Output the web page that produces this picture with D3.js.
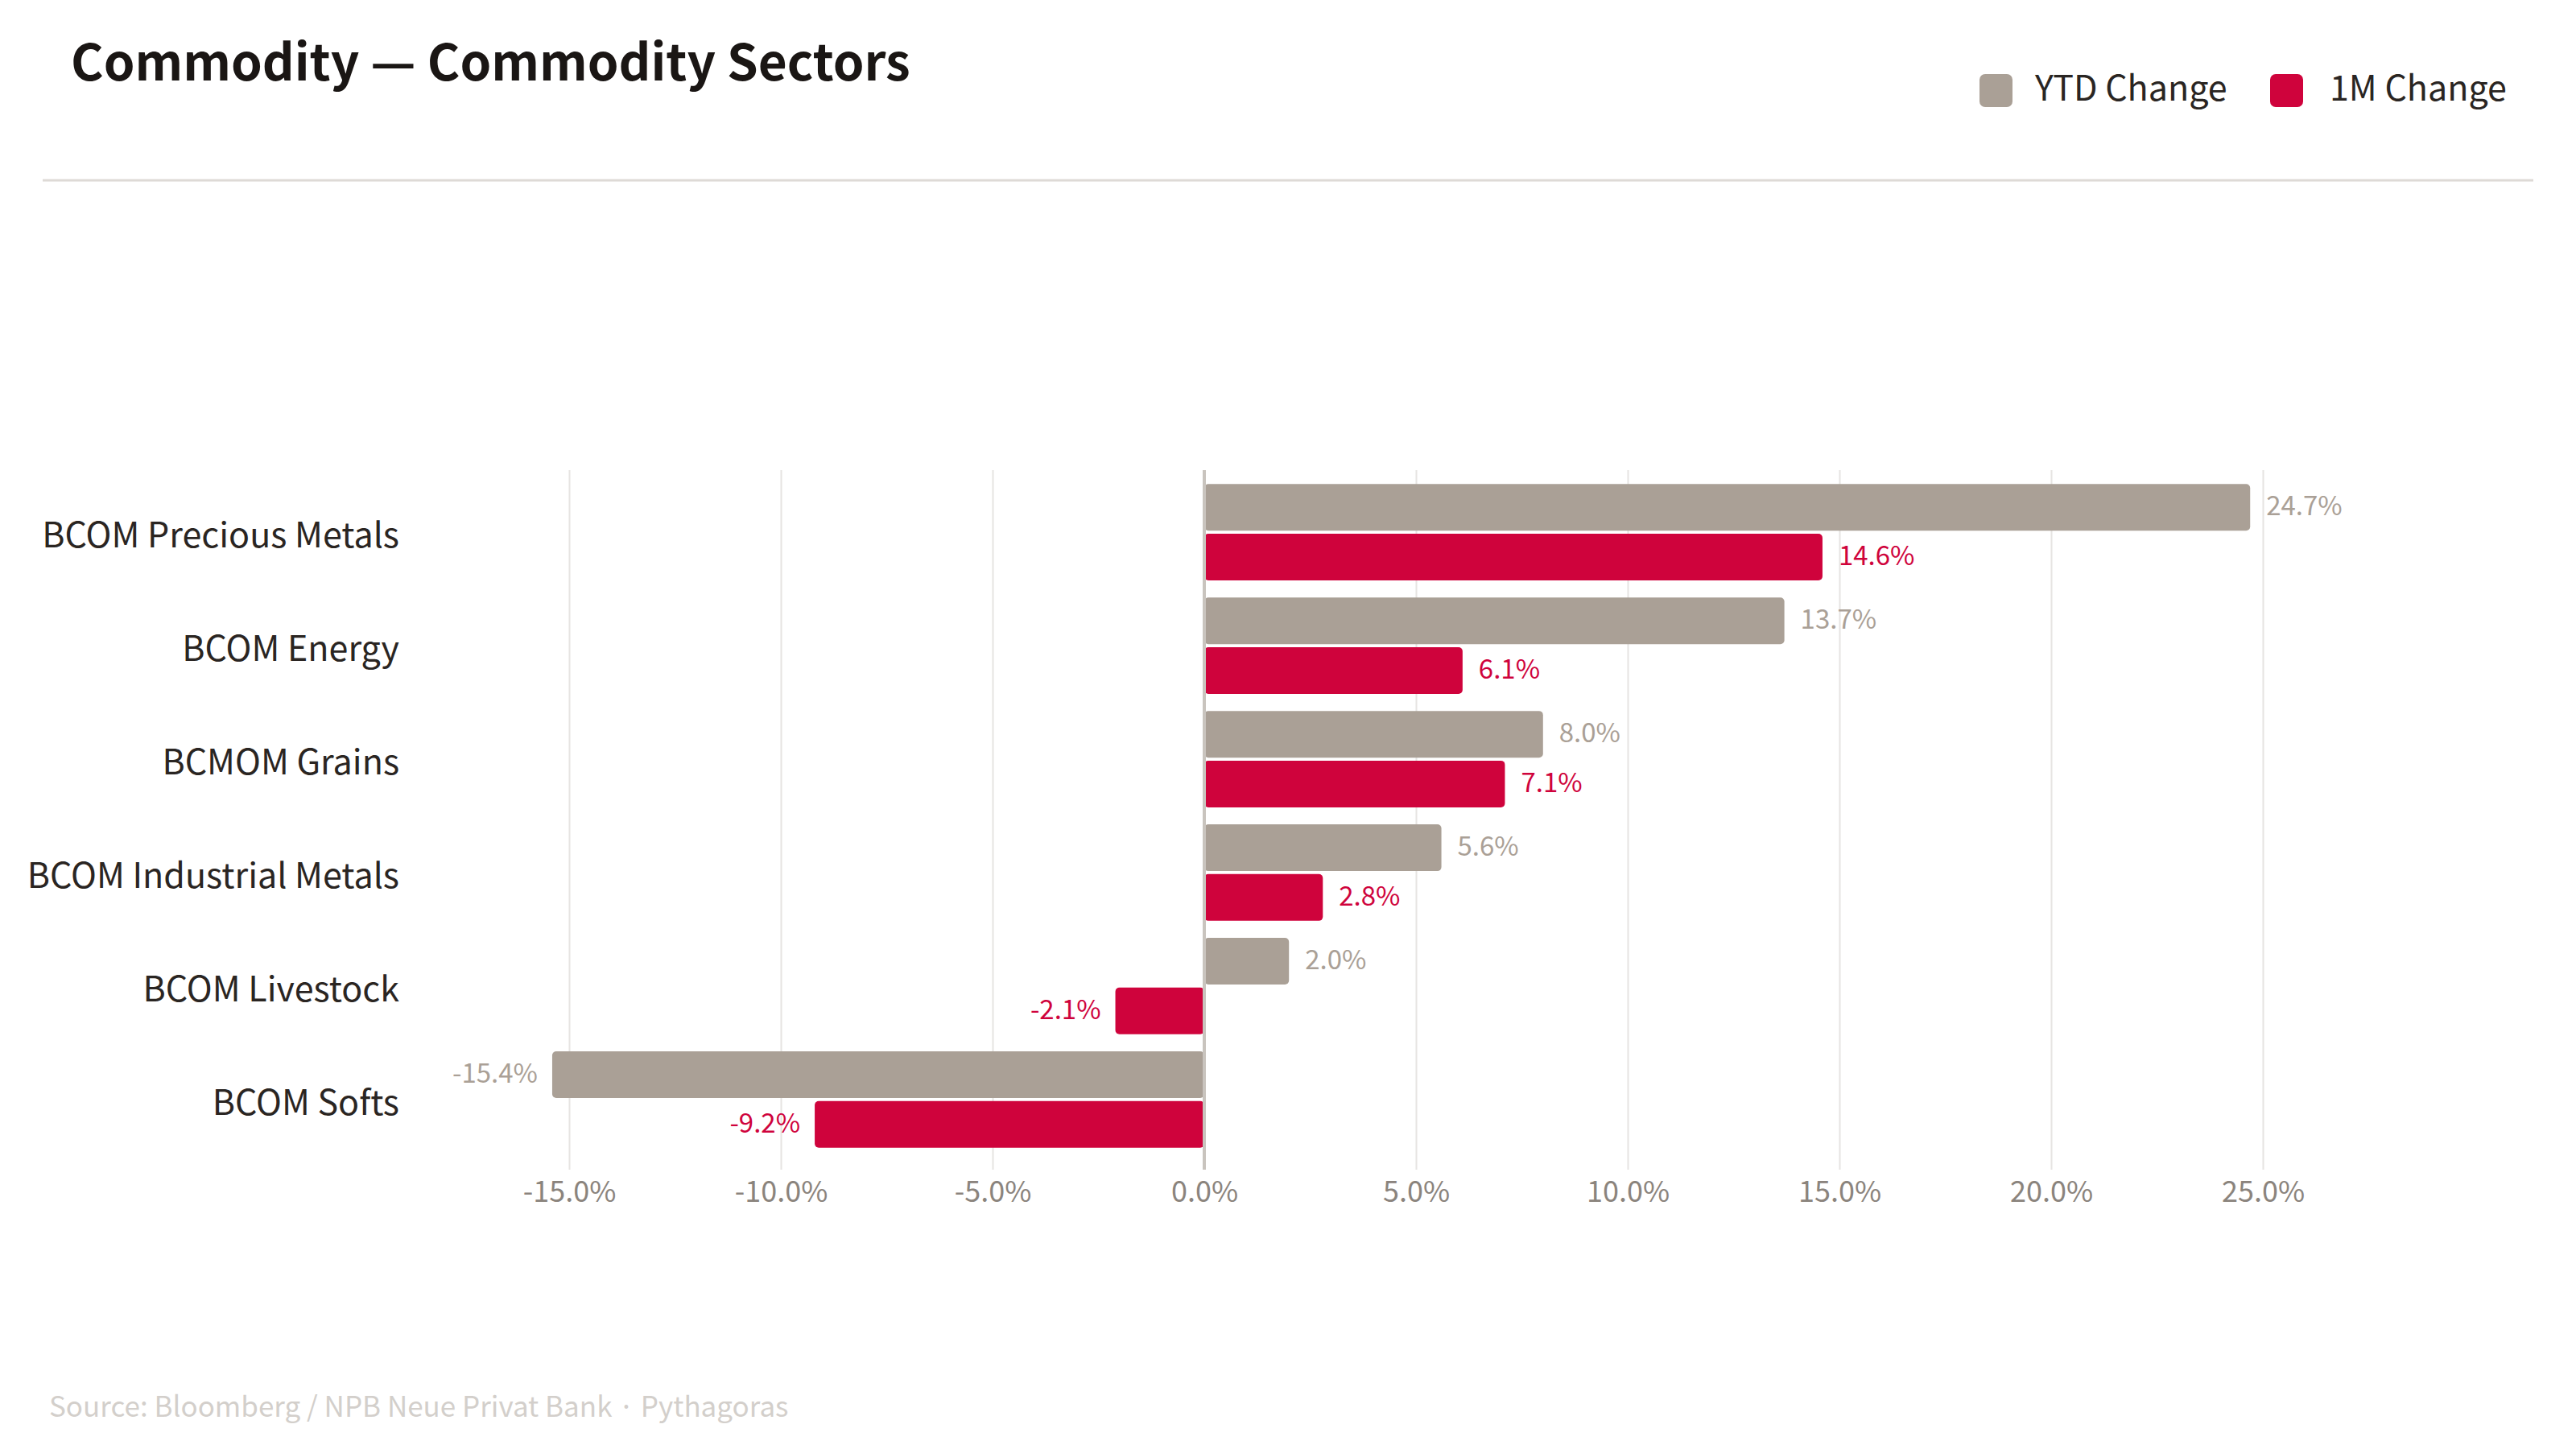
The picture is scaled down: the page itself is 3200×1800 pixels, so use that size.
<!DOCTYPE html>
<html>
<head>
<meta charset="utf-8">
<script src="https://cdn.jsdelivr.net/npm/d3@7"></script>
<style>
  html, body { margin: 0; padding: 0; background: #ffffff; }
  svg { display: block; }
</style>
</head>
<body>
<svg id="chart" width="3200" height="1800"></svg>
<script>
const categories = ["BCOM Precious Metals", "BCOM Energy", "BCMOM Grains", "BCOM Industrial Metals", "BCOM Livestock", "BCOM Softs"];
const seriesNames = ["YTD Change", "1M Change"];
const ytdValues = [24.7, 13.7, 8.0, 5.6, 2.0, -15.4];
const oneMonthValues = [14.6, 6.1, 7.1, 2.8, -2.1, -9.2];
const xTicks = [-15, -10, -5, 0, 5, 10, 15, 20, 25];
const titleText = "Commodity \u2014 Commodity Sectors";
const sourceText = "Source: Bloomberg / NPB Neue Privat Bank \u00b7 Pythagoras";

const colors = { "YTD Change": "#aaa096", "1M Change": "#cf033c" };
const FONT = "'Noto Sans CJK JP', 'Noto Sans', sans-serif";

const svg = d3.select("#chart");

// Title
svg.append("text")
  .attr("x", 88).attr("y", 100)
  .attr("font-family", FONT).attr("font-weight", 700)
  .attr("font-size", 62).attr("fill", "#1a1614")
  .text(titleText);

// Legend
const legendPos = [{ sx: 2459, tx: 2528 }, { sx: 2820, tx: 2894 }];
seriesNames.forEach((s, i) => {
  svg.append("rect")
    .attr("x", legendPos[i].sx).attr("y", 92)
    .attr("width", 41).attr("height", 41).attr("rx", 7)
    .attr("fill", colors[s]);
  svg.append("text")
    .attr("x", legendPos[i].tx).attr("y", 106)
    .attr("dominant-baseline", "central")
    .attr("font-family", FONT).attr("font-size", 43).attr("fill", "#2a2522")
    .text(s);
});

// Separator
svg.append("line")
  .attr("x1", 53).attr("x2", 3147).attr("y1", 224).attr("y2", 224)
  .attr("stroke", "#dedad6").attr("stroke-width", 3);

// Scales
const x = d3.scaleLinear().domain([-15, 25]).range([707, 2811]);
const y = d3.scaleBand().domain(categories).range([590, 1437]).paddingInner(0.15).paddingOuter(0.08);
const ySub = d3.scaleBand().domain(seriesNames).range([0, y.bandwidth()]).paddingInner(0.06);

const gridTop = 584, gridBottom = 1453;

// Grid + axis
const axis = d3.axisBottom(x)
  .tickValues(xTicks)
  .tickFormat(d => d.toFixed(1) + "%")
  .tickSize(-(gridBottom - gridTop))
  .tickPadding(14);

const gAxis = svg.append("g")
  .attr("transform", `translate(0,${gridBottom})`)
  .call(axis);
gAxis.select(".domain").remove();
gAxis.selectAll(".tick line")
  .attr("stroke", "#e6e4e2").attr("stroke-width", 2);
gAxis.selectAll(".tick text")
  .attr("font-family", FONT).attr("font-size", 36).attr("fill", "#8b847d");

// Data rows
const rows = categories.map((c, i) => ({
  cat: c,
  vals: [{ s: "YTD Change", v: ytdValues[i] }, { s: "1M Change", v: oneMonthValues[i] }]
}));

const gRows = svg.append("g").selectAll("g")
  .data(rows).join("g")
  .attr("transform", d => `translate(0,${y(d.cat)})`);

gRows.selectAll("rect")
  .data(d => d.vals).join("rect")
  .attr("x", d => x(Math.min(0, d.v)))
  .attr("y", d => ySub(d.s))
  .attr("width", d => Math.abs(x(d.v) - x(0)))
  .attr("height", ySub.bandwidth())
  .attr("rx", 5)
  .attr("fill", d => colors[d.s]);

gRows.selectAll("text.val")
  .data(d => d.vals).join("text")
  .attr("class", "val")
  .attr("x", d => d.v >= 0 ? x(d.v) + 20 : x(d.v) - 18)
  .attr("y", d => ySub(d.s) + ySub.bandwidth() / 2 - 4)
  .attr("dominant-baseline", "central")
  .attr("text-anchor", d => d.v >= 0 ? "start" : "end")
  .attr("font-family", FONT).attr("font-size", 33)
  .attr("fill", d => colors[d.s])
  .text(d => d.v.toFixed(1) + "%");

// Category labels
svg.append("g").selectAll("text")
  .data(categories).join("text")
  .attr("x", 496)
  .attr("y", d => y(d) + y.bandwidth() / 2)
  .attr("dominant-baseline", "central")
  .attr("text-anchor", "end")
  .attr("font-family", FONT).attr("font-size", 43).attr("fill", "#2a2522")
  .text(d => d);

// Zero line
svg.append("line")
  .attr("x1", x(0)).attr("x2", x(0))
  .attr("y1", gridTop).attr("y2", gridBottom)
  .attr("stroke", "#c9c4be").attr("stroke-width", 4);

// Source
svg.append("text")
  .attr("x", 61).attr("y", 1760)
  .attr("font-family", FONT).attr("font-size", 35).attr("fill", "#d3cfcb")
  .text(sourceText);
</script>
</body>
</html>
